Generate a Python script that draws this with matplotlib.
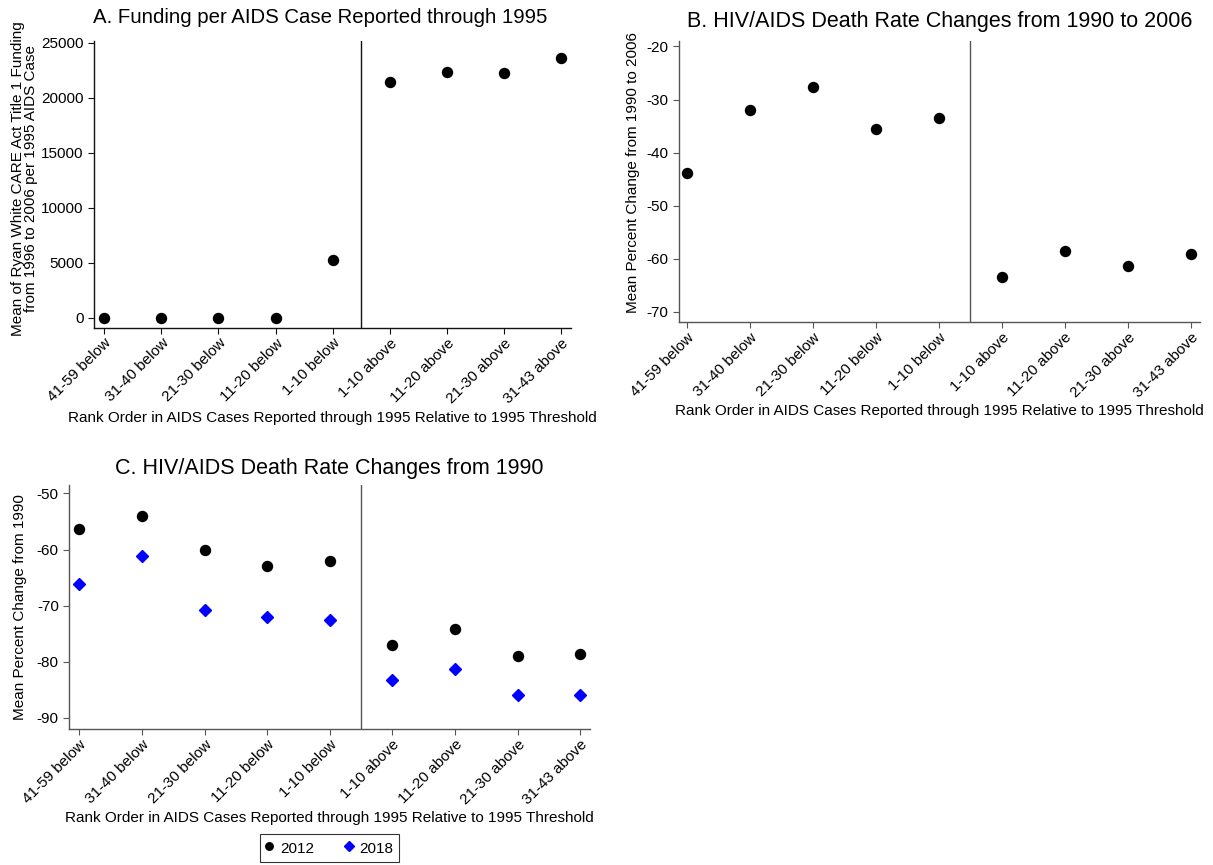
import numpy as np
import matplotlib.pyplot as plt

plt.rcParams['font.family'] = ['Liberation Sans', 'DejaVu Sans']
plt.rcParams['axes.unicode_minus'] = False

# rank groups relative to the 1995 threshold
groups = ['41-59 below', '31-40 below', '21-30 below', '11-20 below', '1-10 below',
          '1-10 above', '11-20 above', '21-30 above', '31-43 above']

# A. funding per AIDS case (dollars)
funding = [0, 0, 0, 0, 5200, 21450, 22350, 22250, 23640]
# B. death rate change 1990-2006 (%)
change_2006 = [-43.8, -31.9, -27.7, -35.6, -33.4, -63.4, -58.6, -61.4, -59.1]
# C. death rate change from 1990 (%)
change_2012 = [-56.4, -54.0, -60.1, -62.9, -62.1, -77.1, -74.1, -78.9, -78.7]
change_2018 = [-66.1, -61.1, -70.8, -72.0, -72.6, -83.2, -81.3, -86.0, -86.0]

xlab = 'Rank Order in AIDS Cases Reported through 1995 Relative to 1995 Threshold'
x = np.arange(1, len(groups) + 1)
cut = 5.5
fs = 11

fig = plt.figure(figsize=(12.13, 8.65), dpi=100)
axA = fig.add_axes([0.0777, 0.6212, 0.3928, 0.3318])
axB = fig.add_axes([0.5598, 0.6277, 0.4295, 0.3253])
axC = fig.add_axes([0.0571, 0.1572, 0.4293, 0.2821])


def style(ax, col, xl, yl, ticks):
    for s in ['top', 'right']:
        ax.spines[s].set_visible(False)
    for s in ['left', 'bottom']:
        ax.spines[s].set_color(col)
        ax.spines[s].set_linewidth(1.0)
    ax.set_xlim(*xl)
    ax.set_ylim(*yl)
    ax.set_yticks(ticks)
    ax.set_xticks(x)
    ax.set_xticklabels(groups, rotation=45, ha='right', rotation_mode='anchor')
    ax.tick_params(axis='both', labelsize=fs, length=4.5, width=0.8, color=col, pad=3)
    ax.tick_params(axis='x', pad=1.5)
    ax.axvline(cut, color=col, lw=1.0)


# panel A
axA.plot(x, funding, 'o', color='black', ms=7.2)
style(axA, '#111111', (0.825, 9.17), (-909, 25180), [0, 5000, 10000, 15000, 20000, 25000])
axA.set_title('A. Funding per AIDS Case Reported through 1995', fontsize=14.7,
              x=0.474, y=1.082, pad=0, va='center')
axA.set_ylabel('Mean of Ryan White CARE Act Title 1 Funding\nfrom 1996 to 2006 per 1995 AIDS Case',
               fontsize=fs, linespacing=0.9)
axA.yaxis.set_label_coords(-0.119, 0.518)
axA.set_xlabel(xlab, fontsize=fs)
axA.xaxis.set_label_coords(0.5, -0.315)
axA.xaxis.label.set_va('center')

# panel B
axB.plot(x, change_2006, 'o', color='black', ms=7.2)
style(axB, '#555555', (0.87, 9.15), (-71.9, -18.9), [-70, -60, -50, -40, -30, -20])
axB.set_title('B. HIV/AIDS Death Rate Changes from 1990 to 2006', fontsize=15.5, y=1.067, pad=0, va='center')
axB.set_ylabel('Mean Percent Change from 1990 to 2006', fontsize=fs)
axB.yaxis.set_label_coords(-0.075, 0.533)
axB.set_xlabel(xlab, fontsize=fs)
axB.xaxis.set_label_coords(0.5, -0.316)
axB.xaxis.label.set_va('center')

# panel C
axC.plot(x, change_2012, 'o', color='black', ms=7.2, label='2012')
axC.plot(x, change_2018, 'D', color='blue', ms=6.2, label='2018')
style(axC, '#555555', (0.84, 9.155), (-92.0, -48.5), [-90, -80, -70, -60, -50])
axC.set_title('C. HIV/AIDS Death Rate Changes from 1990', fontsize=15.5, y=1.066, pad=0, va='center')
axC.set_ylabel('Mean Percent Change from 1990', fontsize=fs)
axC.yaxis.set_label_coords(-0.081, 0.5)
axC.set_xlabel(xlab, fontsize=fs)
axC.xaxis.set_label_coords(0.5, -0.365)
axC.xaxis.label.set_va('center')

leg = fig.legend(loc='center', bbox_to_anchor=(0.2716, 0.0197), ncol=2, fontsize=fs,
                 markerscale=0.75, handletextpad=0.45, columnspacing=2.0, handlelength=0.5,
                 handleheight=1.3, fancybox=False, frameon=True, borderpad=0.35)
leg.get_frame().set_edgecolor('black')
leg.get_frame().set_linewidth(0.8)

fig.savefig('out.png', dpi=100)
